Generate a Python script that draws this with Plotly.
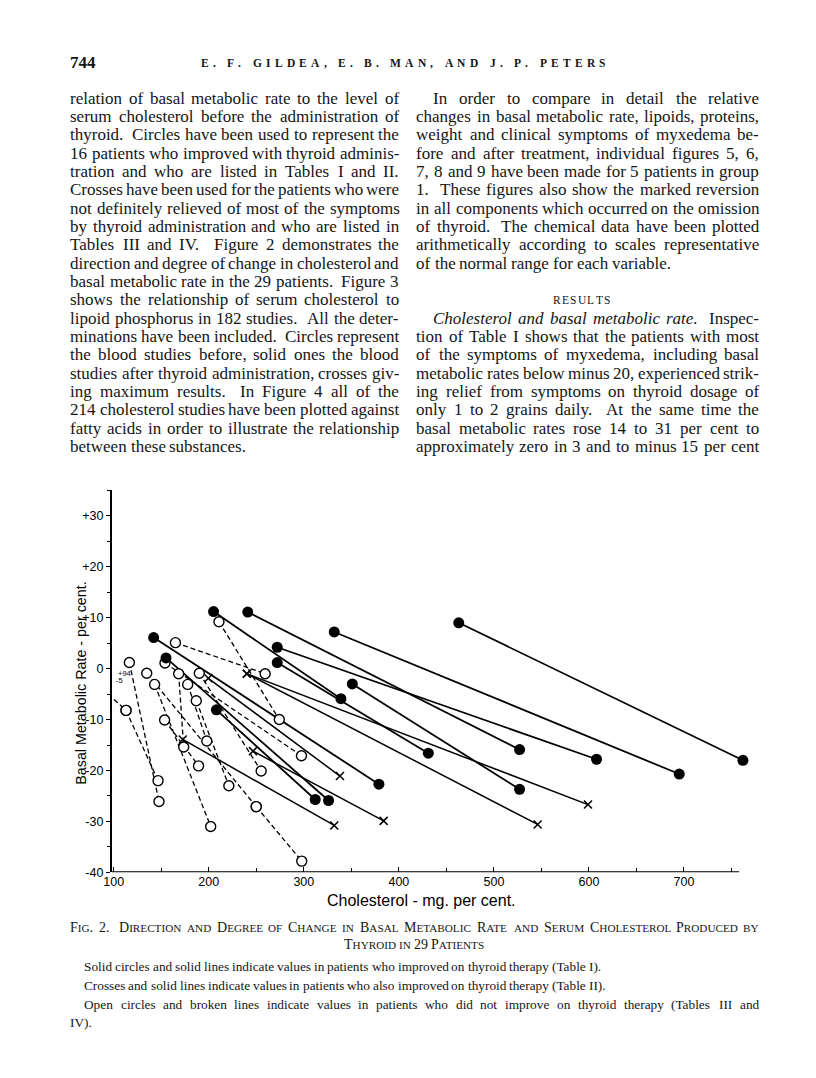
import plotly.graph_objects as go

W, H = 816, 1078

# ---------------- chart data (cholesterol mg per cent, basal metabolic rate per cent) ----------------
# Table I: solid circles + solid lines (after thyroid -> before thyroid)
t1_after_chol = [463, 332, 272, 241, 351, 272, 205, 208, 142, 155]
t1_after_bmr = [9.0, 7.2, 4.2, 11.1, -3.0, 1.2, 11.2, -8.1, 6.1, 2.1]
t1_before_chol = [762, 695, 608, 527, 527, 431, 339, 312, 379, 326]
t1_before_bmr = [-18.0, -20.7, -17.8, -15.9, -23.7, -16.6, -5.9, -25.7, -22.7, -25.9]

# Table II: crosses + solid lines
t2_after_chol = [240, 240, 199.5, 172.6, 246.5]
t2_after_bmr = [-1.0, -1.0, -1.9, -13.9, -16.2]
t2_before_chol = [599, 546, 338, 332, 384]
t2_before_bmr = [-26.7, -30.6, -21.1, -30.8, -29.9]

# Tables III and IV: open circles + broken lines
t3_after_chol = [94, 112.9, 116.4, 134.7, 249.9, 143, 153.9, 164.9, 168.3, 177.8, 190, 210.7, 153.5, 186.8]
t3_after_bmr = [-5, -8.2, 1.2, -0.9, -27.1, -3.1, 1.1, 5.1, -1.0, -3.1, -0.9, 9.2, -10.1, -6.3]
t3_before_chol = [112.9, 146.6, 147.6, 249.9, 297.8, 202, 297.5, 259.3, 173.6, 197.9, 255.1, 274.2, 189.2, 221.1]
t3_before_bmr = [-8.2, -22, -26.1, -27.1, -37.8, -31, -17.1, -1.0, -15.4, -14.2, -20.1, -10, -19.1, -23]

x_tick_vals = [100, 200, 300, 400, 500, 600, 700]
x_tick_text = ["100", "200", "300", "400", "500", "600", "700"]
x_minor_vals = [150, 250, 350, 450, 550, 650, 750]
y_tick_vals = [-40, -30, -20, -10, 0, 10, 20, 30]
y_tick_text = ["-40", "-30", "-20", "-10", "0", "+10", "+20", "+30"]
y_minor_vals = [-35, -25, -15, -5, 5, 15, 25, 35]

# ---------------- page text ----------------
col1_lines = [
    "relation of basal metabolic rate to the level of",
    "serum cholesterol before the administration of",
    "thyroid.  Circles have been used to represent the",
    "16 patients who improved with thyroid adminis-",
    "tration and who are listed in Tables I and II.",
    "Crosses have been used for the patients who were",
    "not definitely relieved of most of the symptoms",
    "by thyroid administration and who are listed in",
    "Tables III and IV.  Figure 2 demonstrates the",
    "direction and degree of change in cholesterol and",
    "basal metabolic rate in the 29 patients.  Figure 3",
    "shows the relationship of serum cholesterol to",
    "lipoid phosphorus in 182 studies.  All the deter-",
    "minations have been included.  Circles represent",
    "the blood studies before, solid ones the blood",
    "studies after thyroid administration, crosses giv-",
    "ing maximum results.  In Figure 4 all of the",
    "214 cholesterol studies have been plotted against",
    "fatty acids in order to illustrate the relationship",
    "between these substances.",
]
col2a_lines = [
    "In order to compare in detail the relative",
    "changes in basal metabolic rate, lipoids, proteins,",
    "weight and clinical symptoms of myxedema be-",
    "fore and after treatment, individual figures 5, 6,",
    "7, 8 and 9 have been made for 5 patients in group",
    "1.  These figures also show the marked reversion",
    "in all components which occurred on the omission",
    "of thyroid.  The chemical data have been plotted",
    "arithmetically according to scales representative",
    "of the normal range for each variable.",
]
col2b_lines = [
    "*Cholesterol *and *basal *metabolic *rate.  Inspec-",
    "tion of Table I shows that the patients with most",
    "of the symptoms of myxedema, including basal",
    "metabolic rates below minus 20, experienced strik-",
    "ing relief from symptoms on thyroid dosage of",
    "only 1 to 2 grains daily.  At the same time the",
    "basal metabolic rates rose 14 to 31 per cent to",
    "approximately zero in 3 and to minus 15 per cent",
]
header_text = "E. F. GILDEA, E. B. MAN, AND J. P. PETERS"
results_text = "RESULTS"
caption_l1 = "Fig. 2.  Direction and Degree of Change in Basal Metabolic Rate and Serum Cholesterol Produced by"
caption_l2 = "Thyroid in 29 Patients"
notes = [
    "Solid circles and solid lines indicate values in patients who improved on thyroid therapy (Table I).",
    "Crosses and solid lines indicate values in patients who also improved on thyroid therapy (Table II).",
    "Open circles and broken lines indicate values in patients who did not improve on thyroid therapy (Tables III and",
    "IV).",
]

# ---------------- font metrics (Times / Liberation Serif) ----------------
_chars = " !\"#$%&'()*+,-./0123456789:;<=>?@ABCDEFGHIJKLMNOPQRSTUVWXYZ[\\]^_`abcdefghijklmnopqrstuvwxyz{|}~"
_wid = [250, 333, 408, 500, 500, 833, 778, 180, 333, 333, 500, 564, 250, 333, 250, 278,
        500, 500, 500, 500, 500, 500, 500, 500, 500, 500, 278, 278, 564, 564, 564, 444, 921,
        722, 667, 667, 722, 611, 556, 722, 722, 333, 389, 722, 611, 889, 722, 722, 556, 722, 667, 556, 611, 722, 722, 944, 722, 722, 611,
        333, 278, 333, 469, 500, 333,
        444, 500, 444, 500, 444, 333, 500, 500, 278, 278, 500, 278, 778, 500, 500, 500, 500, 333, 389, 278, 500, 500, 722, 500, 500, 444,
        480, 200, 480, 541]
TR = dict(zip(_chars, _wid))
TI = dict(TR)
TI.update({"a": 500, "f": 278, "m": 722, "r": 389, "C": 667, "v": 444})
TB = dict(TR)
TB.update(dict(zip("ABCDEFGHIJKLMNOPQRSTUVWXYZ",
                   [722, 667, 722, 722, 667, 611, 778, 778, 389, 500, 778, 667, 944, 722, 778, 611, 778, 722, 556, 667, 722, 722, 1000, 722, 722, 667])))


def tw(s, fs, table=TR):
    return sum(table.get(c, 500) for c in s) * fs / 1000.0


SERIF = "Liberation Serif, Times New Roman, serif"
SANS = "Liberation Sans, Arial, sans-serif"
INK = "#151515"
annotations = []


def add_text(px, py, html, fs, family=SERIF, xanchor="left", angle=0, color=INK):
    annotations.append(dict(x=px / W, y=1 - py / H, xref="paper", yref="paper", text=html,
                            showarrow=False, xanchor=xanchor, yanchor="middle", textangle=angle,
                            font=dict(family=family, size=fs, color=color), borderpad=0))


def words_of(line, fs):
    toks = line.split(" ")
    words, gaps, pending = [], [], 0
    for t in toks:
        if t == "":
            pending += 1
            continue
        if words:
            gaps.append(1.8 if pending >= 1 else 1.0)
        pending = 0
        if t.startswith("*"):
            t = t[1:]
            words.append(("<i>" + t + "</i>", tw(t, fs, TI)))
        else:
            words.append((t, tw(t, fs)))
    return words, gaps


def place(words, gaps, x0, x1, py, fs, justify, family=SERIF):
    total = sum(w for _, w in words)
    if justify and gaps:
        unit = (x1 - x0 - total) / sum(gaps)
    else:
        unit = 0.25 * fs
    x = x0
    for i, (html, w) in enumerate(words):
        add_text(x, py, html, fs, family)
        if i < len(gaps):
            x += w + unit * gaps[i]


def paragraph(lines, x0, x1, y0, dy, fs, indent_first=0, last_justified=False):
    for i, ln in enumerate(lines):
        wds, gps = words_of(ln, fs)
        just = (i < len(lines) - 1) or last_justified
        place(wds, gps, x0 + (indent_first if i == 0 else 0), x1, y0 + i * dy, fs, just)


def letterspaced(text, x0, x1, py, fs, table=TR, bold=False):
    widths = [tw(c, fs, table) for c in text]
    extra = (x1 - x0 - sum(widths)) / (len(text) - 1)
    x = x0
    for c, w in zip(text, widths):
        if c != " ":
            add_text(x, py, "<b>%s</b>" % c if bold else c, fs)
        x += w + extra


def smallcaps(word, fs, ratio=0.8, table=TR):
    html, w, run = "", 0.0, ""
    for ch in word:
        if ch.islower():
            run += ch.upper()
        else:
            if run:
                html += '<span style="font-size:%.1fpx">%s</span>' % (fs * ratio, run)
                w += tw(run, fs * ratio, table)
                run = ""
            html += ch
            w += tw(ch, fs, table)
    if run:
        html += '<span style="font-size:%.1fpx">%s</span>' % (fs * ratio, run)
        w += tw(run, fs * ratio, table)
    return html, w


# ---------------- page layout ----------------
FS = 17
LINE0, DY = 99, 18.44
C1 = (61, 393)
C2 = (411, 757)

add_text(61, 63, "<b>744</b>", 17)
letterspaced(header_text, 193, 602, 63, 11.5, TB, bold=True)

paragraph(col1_lines, C1[0], C1[1], LINE0, DY, FS)
paragraph(col2a_lines, C2[0], C2[1], LINE0, DY, FS, indent_first=17)
letterspaced(results_text, 549, 607, LINE0 + 11 * DY, 11.5)
paragraph(col2b_lines, C2[0], C2[1], LINE0 + 12 * DY, DY, FS, indent_first=17, last_justified=True)

CFS = 14
cap_words = [smallcaps(w, CFS) for w in caption_l1.split()]
cap_gaps = [1.0] * (len(cap_words) - 1)
cap_gaps[1] = 1.6
place(cap_words, cap_gaps, 61, 757, 934, CFS, True)
c2 = [smallcaps(w, CFS) for w in caption_l2.split()]
c2w = sum(w for _, w in c2) + 0.25 * CFS * (len(c2) - 1)
place(c2, [1.0] * (len(c2) - 1), 409 - c2w / 2, 409 + c2w / 2, 951, CFS, False)

NFS = 13.3
for i, ln in enumerate(notes):
    wds, gps = words_of(ln, NFS)
    x0 = 61 if ln == "IV)." else 75
    place(wds, gps, x0, 757, 973 + i * 18.8, NFS, i == 2)

# ---------------- chart ----------------
def seg_xy(xa, ya, xb, yb):
    xs, ys = [], []
    for a, b, c, d in zip(xa, ya, xb, yb):
        xs += [a, c, None]
        ys += [b, d, None]
    return xs, ys


fig = go.Figure()
lx, ly = seg_xy(t3_after_chol, t3_after_bmr, t3_before_chol, t3_before_bmr)
fig.add_trace(go.Scatter(x=lx, y=ly, mode="lines", line=dict(color="black", width=1.3, dash="5px,3px"),
                         hoverinfo="skip", showlegend=False))
lx, ly = seg_xy(t2_after_chol, t2_after_bmr, t2_before_chol, t2_before_bmr)
fig.add_trace(go.Scatter(x=lx, y=ly, mode="lines", line=dict(color="black", width=1.5),
                         hoverinfo="skip", showlegend=False))
lx, ly = seg_xy(t1_after_chol, t1_after_bmr, t1_before_chol, t1_before_bmr)
fig.add_trace(go.Scatter(x=lx, y=ly, mode="lines", line=dict(color="black", width=1.8),
                         hoverinfo="skip", showlegend=False))

fig.add_trace(go.Scatter(x=t3_after_chol + t3_before_chol, y=t3_after_bmr + t3_before_bmr, mode="markers",
                         marker=dict(symbol="circle", size=10, color="white", line=dict(color="black", width=1.4)),
                         showlegend=False))
fig.add_trace(go.Scatter(x=t2_after_chol + t2_before_chol, y=t2_after_bmr + t2_before_bmr, mode="markers",
                         marker=dict(symbol="x-thin", size=8, line=dict(color="black", width=1.5)),
                         showlegend=False))
fig.add_trace(go.Scatter(x=t1_after_chol + t1_before_chol, y=t1_after_bmr + t1_before_bmr, mode="markers",
                         marker=dict(symbol="circle", size=11, color="black"), cliponaxis=False,
                         showlegend=False))

# plot-area pixel frame: x 98 -> px 104, 0.961 px per mg; y -40 -> px 878, 5.125 px per unit
X_LO, X_HI, X_AXIS_END = 98, 775, 758
PX0 = 104
PX1 = PX0 + (X_HI - X_LO) * 0.961
PY_BOT, PY_TOP = 878, 878 - 75 * 5.125

fig.update_layout(
    width=W, height=H, margin=dict(l=0, r=0, t=0, b=0),
    paper_bgcolor="white", plot_bgcolor="white",
    showlegend=False, annotations=annotations,
    xaxis=dict(domain=[PX0 / W, PX1 / W], range=[X_LO, X_HI], showgrid=False, zeroline=False,
               showline=False,
               tickvals=x_tick_vals, ticktext=x_tick_text, ticks="inside", ticklen=5, tickwidth=1.3,
               tickcolor="black", minor=dict(tickvals=x_minor_vals, ticks="inside",
                                             ticklen=4, tickcolor="black", tickwidth=1.2),
               tickfont=dict(family=SANS, size=12.5, color="black")),
    yaxis=dict(domain=[1 - PY_BOT / H, 1 - PY_TOP / H], range=[-40, 35], showgrid=False, zeroline=False,
               showline=True, linecolor="black", linewidth=2,
               tickvals=y_tick_vals, ticktext=y_tick_text, ticks="outside", ticklen=4, tickwidth=1.3,
               tickcolor="black", minor=dict(tickvals=y_minor_vals, ticks="outside",
                                             ticklen=3, tickcolor="black", tickwidth=1.2),
               tickfont=dict(family=SANS, size=12.5, color="black")),
    shapes=[dict(type="line", xref="x", yref="y", x0=X_LO, x1=X_AXIS_END, y0=-40, y1=-40,
                 line=dict(color="black", width=2))],
)

fig.add_annotation(x=72 / W, y=1 - 688 / H, xref="paper", yref="paper", text="Basal Metabolic Rate - per cent.",
                   textangle=-90, xanchor="center", yanchor="middle", showarrow=False,
                   font=dict(family=SANS, size=14.3, color="black"))
fig.add_annotation(x=417 / W, y=1 - 906 / H, xref="paper", yref="paper", text="Cholesterol - mg. per cent.",
                   xanchor="center", yanchor="middle", showarrow=False,
                   font=dict(family=SANS, size=16, color="black"))
fig.add_annotation(x=108 / W, y=1 - 678 / H, xref="paper", yref="paper", text="+94", xanchor="left",
                   yanchor="middle", showarrow=False, font=dict(family=SANS, size=7.5, color="black"))
fig.add_annotation(x=106 / W, y=1 - 685 / H, xref="paper", yref="paper", text="-5", xanchor="left",
                   yanchor="middle", showarrow=False, font=dict(family=SANS, size=7.5, color="black"))

fig.write_html("out.html", config={"displayModeBar": False},
               post_script="document.body.style.margin='0px';")
